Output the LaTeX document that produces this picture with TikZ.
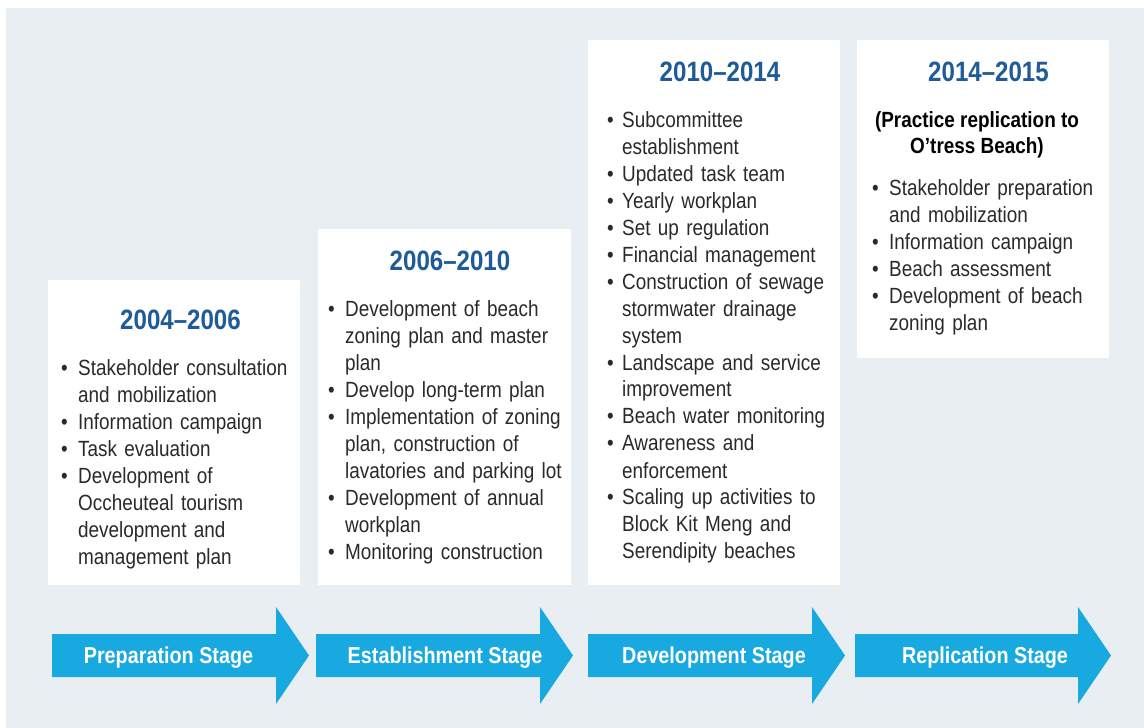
\documentclass[tikz,border=0pt]{standalone}
\usepackage{fontspec}
\setmainfont{Liberation Sans}[FakeStretch=0.86]
\newfontfamily\condb{Liberation Sans}[FakeStretch=0.86]
\definecolor{bgc}{HTML}{E8EEF2}
\definecolor{titleblue}{HTML}{1E5B98}
\definecolor{arrowc}{HTML}{18A9E1}
\definecolor{bodyc}{HTML}{2A2A2A}
\newcommand\itm[2][17pt]{\par\hangindent=#1\hangafter=1\noindent\makebox[#1][l]{\textbullet}\ignorespaces#2}
\tikzset{
  card/.style={rectangle, fill=white, draw=none, inner sep=0pt},
  yeartitle/.style={anchor=base, inner sep=0pt, text=titleblue, font=\condb\bfseries\fontsize{28}{30}\selectfont},
  itemlist/.style={anchor=base west, inner sep=0pt, text width=300pt, text=bodyc, font=\fontsize{22}{27}\selectfont},
  subtitle/.style={anchor=base, inner sep=0pt, align=center, text=black, font=\condb\bfseries\fontsize{22}{26}\selectfont},
  stagelabel/.style={anchor=base, inner sep=0pt, text=white, font=\condb\bfseries\fontsize{23}{26}\selectfont},
  stagearrow/.style={fill=arrowc, draw=none}
}
\begin{document}
\begin{tikzpicture}[x=1pt, y=-1pt]
\useasboundingbox (0,0) rectangle (1144,728);
\fill[white] (0,0) rectangle (1144,728);
\fill[bgc] (6,8) rectangle (1144,728);

% cards
\node[card, minimum width=252pt, minimum height=305pt] (b1) at (174,432.5) {};
\node[card, minimum width=253pt, minimum height=356pt] (b2) at (444.5,407) {};
\node[card, minimum width=252pt, minimum height=545pt] (b3) at (714,312.5) {};
\node[card, minimum width=252pt, minimum height=318pt] (b4) at (983,199) {};

% titles
\node[yeartitle] (t1) at (180.5,329) {2004–2006};
\node[yeartitle] (t2) at (450,270) {2006–2010};
\node[yeartitle] (t3) at (720,81) {2010–2014};
\node[yeartitle] (t4) at (988.5,81) {2014–2015};

% lists
\node[itemlist] (l1) at (61,348) {\raggedright\parskip=0pt
\itm{Stakeholder consultation\newline and mobilization}
\itm{Information campaign}
\itm{Task evaluation}
\itm{Development of\newline Occheuteal tourism\newline development and\newline management plan}\par};

\node[itemlist] (l2) at (328,289) {\raggedright\parskip=0pt
\itm{Development of beach\newline zoning plan and master\newline plan}
\itm{Develop long-term plan}
\itm{Implementation of zoning\newline plan, construction of\newline lavatories and parking lot}
\itm{Development of annual\newline workplan}
\itm{Monitoring construction}\par};

\node[itemlist] (l3) at (607,100) {\raggedright\parskip=0pt
\itm[15pt]{Subcommittee\newline establishment}
\itm[15pt]{Updated task team}
\itm[15pt]{Yearly workplan}
\itm[15pt]{Set up regulation}
\itm[15pt]{Financial management}
\itm[15pt]{Construction of sewage\newline stormwater drainage\newline system}
\itm[15pt]{Landscape and service\newline improvement}
\itm[15pt]{Beach water monitoring}
\itm[15pt]{Awareness and\newline enforcement}
\itm[15pt]{Scaling up activities to\newline Block Kit Meng and\newline Serendipity beaches}\par};

\node[subtitle] (s4) at (977,153) {(Practice replication to\\O’tress Beach)};

\node[itemlist] (l4) at (872,168) {\raggedright\parskip=0pt
\itm{Stakeholder preparation\newline and mobilization}
\itm{Information campaign}
\itm{Beach assessment}
\itm{Development of beach\newline zoning plan}\par};

% stage arrows
\fill[stagearrow] (52,634) -- (276,634) -- (276,607) -- (309,655.5) -- (276,704) -- (276,677) -- (52,677) -- cycle;
\fill[stagearrow] (316,634) -- (540,634) -- (540,607) -- (573,655.5) -- (540,704) -- (540,677) -- (316,677) -- cycle;
\fill[stagearrow] (588,634) -- (812,634) -- (812,607) -- (845,655.5) -- (812,704) -- (812,677) -- (588,677) -- cycle;
\fill[stagearrow] (855,634) -- (1078,634) -- (1078,607) -- (1111,655.5) -- (1078,704) -- (1078,677) -- (855,677) -- cycle;

\node[stagelabel] (a1) at (168.5,663) {Preparation Stage};
\node[stagelabel] (a2) at (445,663) {Establishment Stage};
\node[stagelabel] (a3) at (714,663) {Development Stage};
\node[stagelabel] (a4) at (985,663) {Replication Stage};
\end{tikzpicture}
\end{document}
